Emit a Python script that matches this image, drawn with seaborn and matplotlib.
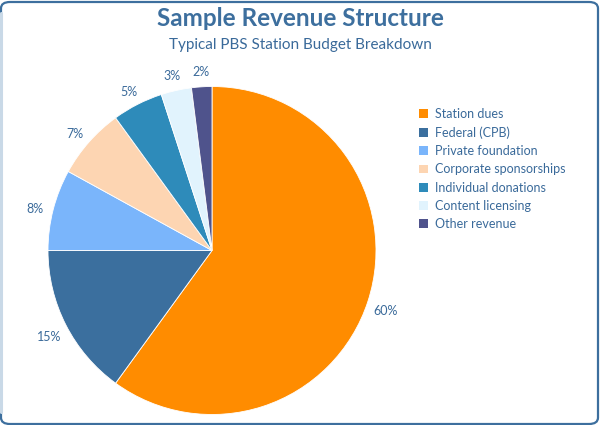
import matplotlib
matplotlib.use("Agg")
import matplotlib.pyplot as plt
import matplotlib.transforms as mtransforms
import seaborn as sns
from matplotlib.patches import FancyBboxPatch
from matplotlib.lines import Line2D

categories = ["Station dues", "Federal (CPB)", "Private foundation",
              "Corporate sponsorships", "Individual donations",
              "Content licensing", "Other revenue"]
values = [60, 15, 8, 7, 5, 3, 2]
colors = ["#ff8c00", "#3b6f9e", "#7ab5fb", "#fdd5b2", "#2e8bba", "#e1f3fd", "#4f538c"]

title = "Sample Revenue Structure"
subtitle = "Typical PBS Station Budget Breakdown"

sns.set_theme(style="white")
plt.rcParams["font.family"] = ["Lato", "DejaVu Sans"]
text_color = "#3a6a9a"

palette = sns.color_palette(colors)

fig = plt.figure(figsize=(6, 4.25), dpi=100)
W, H = 600, 425

# frame
frame = FancyBboxPatch((1 / W, 1 / H), 1 - 3 / W, 1 - 3 / H,
                       boxstyle="round,pad=0,rounding_size=0.015",
                       transform=fig.transFigure, facecolor="white",
                       edgecolor="#3d6f9e", linewidth=1.6, zorder=-10)
fig.patches.append(frame)
fig.add_artist(Line2D([1.2 / W, 1.2 / W], [0.03, 0.97],
                      transform=fig.transFigure, color="#c9d9e7", lw=2.2, zorder=-5))

cx, cy, r = 212, 250.5, 164
ax = fig.add_axes([(cx - r) / W, (H - cy - r) / H, 2 * r / W, 2 * r / H])
ax.set_facecolor("none")
wedges, texts, autotexts = ax.pie(
    values, colors=palette, startangle=90, counterclock=False,
    autopct=lambda p: f"{p:.0f}%", pctdistance=1.113,
    wedgeprops=dict(linewidth=0.6, edgecolor="white"),
    textprops=dict(color=text_color, fontsize=9))
shift = mtransforms.ScaledTranslation(0, -4 / 100, fig.dpi_scale_trans)
for t in autotexts:
    t.set_transform(ax.transData + shift)
ax.set_aspect("equal")
ax.set_xlim(-1, 1)
ax.set_ylim(-1, 1)
ax.set_axis_off()

fig.text(0.5, 1 - 19 / H, title, ha="center", va="center",
         fontsize=17.5, fontweight="bold", color="#3d6f9e")
fig.text(0.5, 1 - 45 / H, subtitle, ha="center", va="center",
         fontsize=11, color=text_color)

handles = [plt.Rectangle((0, 0), 1, 1, facecolor=c, edgecolor="none") for c in palette]
leg = fig.legend(handles, categories, loc="upper left",
                 bbox_to_anchor=(414 / W, 1 - 103 / H), frameon=False,
                 fontsize=9, handlelength=0.7, handleheight=0.7,
                 handletextpad=0.55, labelspacing=0.5, borderaxespad=0)
for t in leg.get_texts():
    t.set_color(text_color)

fig.savefig("out.png", dpi=100)
